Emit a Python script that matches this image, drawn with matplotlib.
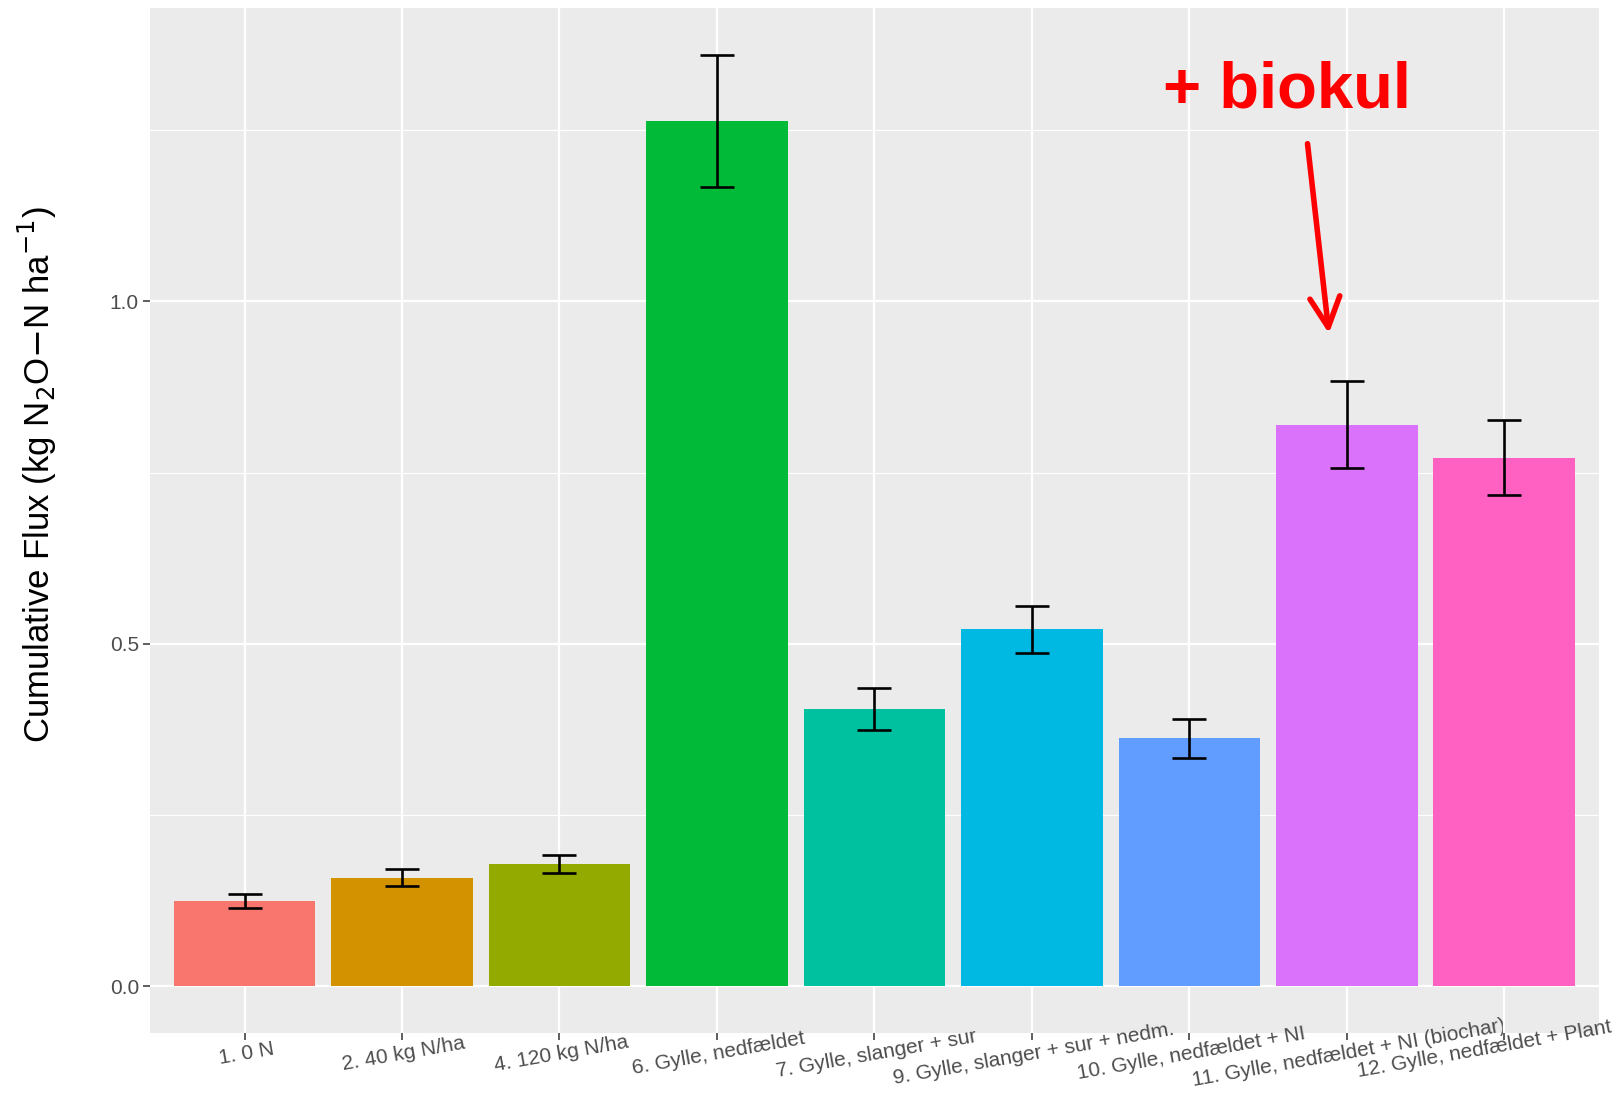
import matplotlib
matplotlib.use("Agg")
import matplotlib.pyplot as plt
import matplotlib.transforms as mtransforms

plt.rcParams['font.family'] = ['Liberation Sans', 'DejaVu Sans']

treatments = ['1. 0 N', '2. 40 kg N/ha', '4. 120 kg N/ha', '6. Gylle, nedfældet',
              '7. Gylle, slanger + sur', '9. Gylle, slanger + sur + nedm.',
              '10. Gylle, nedfældet + NI', '11. Gylle, nedfældet + NI (biochar)',
              '12. Gylle, nedfældet + Plant']
flux = [0.125, 0.159, 0.179, 1.263, 0.405, 0.521, 0.362, 0.820, 0.772]
se = [0.010, 0.0125, 0.0135, 0.096, 0.030, 0.034, 0.029, 0.063, 0.055]
colors = ['#F8766D', '#D39200', '#93AA00', '#00BA38', '#00C19F',
          '#00B9E3', '#619CFF', '#DB72FB', '#FF61C3']

fig = plt.figure(figsize=(16.15, 10.99), dpi=100)
ax = fig.add_axes([0.0929, 0.060, 0.8971, 0.9327])
ax.set_facecolor('#EBEBEB')

x = range(len(treatments))
ax.bar(x, flux, width=0.9, color=colors, zorder=3)
ax.errorbar(x, flux, yerr=se, fmt='none', ecolor='black', elinewidth=1.9,
            capsize=12, capthick=1.9, zorder=4)

ax.set_xlim(-0.6, len(treatments) - 0.4)
ax.set_ylim(-0.068, 1.428)
ax.set_yticks([0.0, 0.5, 1.0])
ax.set_yticklabels(['0.0', '0.5', '1.0'])
ax.set_yticks([0.25, 0.75, 1.25], minor=True)
ax.set_xticks(list(x))
ax.set_xticklabels(treatments, rotation=10, rotation_mode='anchor',
                   ha='center', va='top')

ax.grid(which='major', color='white', linewidth=1.6, zorder=0)
ax.grid(which='minor', axis='y', color='white', linewidth=0.8, zorder=0)
ax.tick_params(axis='both', which='major', length=5, width=1.1, color='#333333',
               labelcolor='#4D4D4D', labelsize=15, pad=3)
ax.tick_params(axis='y', which='minor', length=0)
for s in ax.spines.values():
    s.set_visible(False)

# last label runs off the right edge; nudge it left a little
last = ax.xaxis.get_major_ticks()[-1].label1
last.set_transform(last.get_transform() +
                   mtransforms.ScaledTranslation(-0.22, 0.04, fig.dpi_scale_trans))

ax.set_ylabel(r'Cumulative Flux (kg N$_2$O$-$N ha$^{-1}$)', fontsize=25, color='black')
ax.yaxis.set_label_coords(-0.063, 0.545)

# red note pointing at the biochar treatment
ax.text(5.83, 1.283, '+ biokul', color='red', fontsize=47, fontweight='bold',
        ha='left', va='baseline', zorder=5)
ax.annotate('', xy=(6.886, 0.953), xytext=(6.75, 1.23),
            arrowprops=dict(arrowstyle='->', color='red', lw=4, mutation_scale=54,
                            shrinkA=0, shrinkB=0), zorder=5)

fig.savefig('out.png', dpi=100)
